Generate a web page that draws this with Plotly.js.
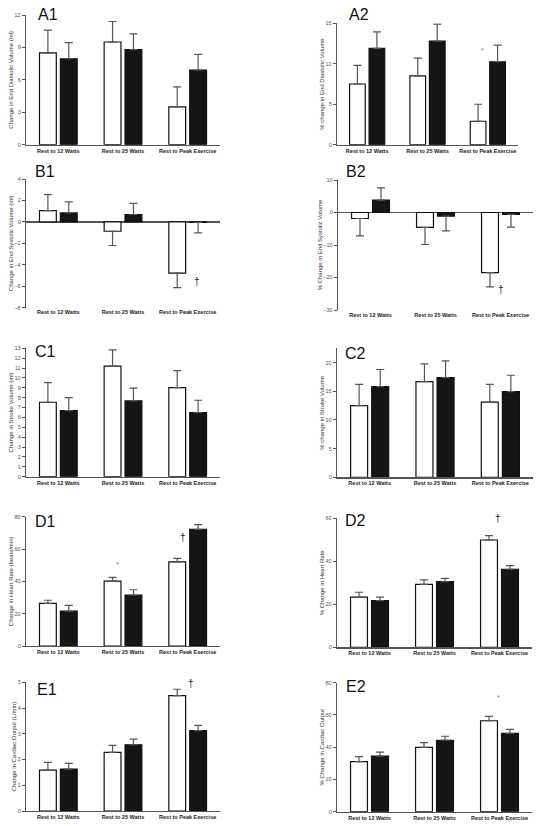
<!DOCTYPE html>
<html>
<head>
<meta charset="utf-8">
<script src="https://cdn.plot.ly/plotly-3.0.1.min.js"></script>
<style>html,body{margin:0;padding:0;background:#fff;}#chart{width:539px;height:826px;}</style>
</head>
<body>
<div id="chart"></div>
<script>
// ---------------- DATA ----------------
const categories = ['Rest to 12 Watts', 'Rest to 25 Watts', 'Rest to Peak Exercise'];

const a1White = [8.5, 9.5, 3.5],    a1WhiteErr = [2.1, 1.9, 1.85];
const a1Black = [7.95, 8.8, 6.9],   a1BlackErr = [1.5, 1.45, 1.45];
const a2White = [7.5, 8.5, 2.9],    a2WhiteErr = [2.3, 2.2, 2.1];
const a2Black = [11.9, 12.8, 10.25],a2BlackErr = [2.05, 2.1, 2.05];
const b1White = [1.05, -0.87, -4.77], b1WhiteErr = [1.5, 1.33, 1.36];
const b1Black = [0.84, 0.69, -0.05],  b1BlackErr = [1.03, 1.03, 0.98];
const b2White = [-1.85, -4.6, -18.5], b2WhiteErr = [5.35, 5.25, 4.4];
const b2Black = [3.8, -1.1, -0.6],    b2BlackErr = [3.8, 4.55, 3.9];
const c1White = [7.54, 11.2, 9.02], c1WhiteErr = [1.98, 1.64, 1.72];
const c1Black = [6.69, 7.67, 6.48], c1BlackErr = [1.31, 1.29, 1.26];
const c2White = [12.5, 16.7, 13.1], c2WhiteErr = [3.7, 3.1, 3.1];
const c2Black = [15.8, 17.4, 14.95],c2BlackErr = [3.0, 2.9, 2.85];
const d1White = [26.4, 40.2, 52.1], d1WhiteErr = [1.9, 2.3, 2.1];
const d1Black = [21.6, 31.5, 72.2], d1BlackErr = [3.5, 3.3, 2.9];
const d2White = [23.3, 29.3, 49.9], d2WhiteErr = [2.3, 2.1, 2.0];
const d2Black = [21.7, 30.5, 36.3], d2BlackErr = [1.6, 1.6, 1.7];
const e1White = [1.59, 2.28, 4.48], e1WhiteErr = [0.30, 0.27, 0.25];
const e1Black = [1.63, 2.57, 3.12], e1BlackErr = [0.22, 0.22, 0.21];
const e2White = [31, 39.9, 56.4],   e2WhiteErr = [3.1, 2.9, 2.7];
const e2Black = [34.5, 44.3, 48.6], e2BlackErr = [2.5, 2.5, 2.5];

const panelIds = ['A1','A2','B1','B2','C1','C2','D1','D2','E1','E2'];
const yTitles = [
  'Change in End Diastolic Volume (ml)', '% change in End Diastolic Volume',
  'Change in End Systolic Volume (ml)', '% Change in End Systolic Volume',
  'Change in Stroke Volume (ml)', '% change in Stroke Volume',
  'Change in Heart Rate (beats/min)', '% Change in Heart Rate',
  'Change in Cardiac Output (L/min)', '% Change in Cardiac Output'
];
const yRanges = [[0,12],[0,15],[-8,4],[-30,10],[0,13],[0,22.5],[0,80],[0,60],[0,5],[0,80]];
const yDticks = [3, 5, 2, 10, 1, 5, 20, 20, 1, 20];

// significance marks
const sigPanel = ['A2','B1','B2','D1','D1','D2','E1','E2'];
const sigX     = [1.91, 2.15, 2.0, 0.92, 1.93, 1.98, 2.05, 1.98];
const sigY     = [11.6, -5.6, -23.6, 50.7, 67, 59.7, 4.94, 71];
const sigText  = ['*', '†', '†', '*', '†', '†', '†', '*'];

const whiteSeries = [a1White,a2White,b1White,b2White,c1White,c2White,d1White,d2White,e1White,e2White];
const whiteErrs   = [a1WhiteErr,a2WhiteErr,b1WhiteErr,b2WhiteErr,c1WhiteErr,c2WhiteErr,d1WhiteErr,d2WhiteErr,e1WhiteErr,e2WhiteErr];
const blackSeries = [a1Black,a2Black,b1Black,b2Black,c1Black,c2Black,d1Black,d2Black,e1Black,e2Black];
const blackErrs   = [a1BlackErr,a2BlackErr,b1BlackErr,b2BlackErr,c1BlackErr,c2BlackErr,d1BlackErr,d2BlackErr,e1BlackErr,e2BlackErr];

// ---------------- LAYOUT (pixel boxes) ----------------
const W = 539, H = 826;
const boxes = {
  A1:{x:[26,220], y:[15,144.7]},   A2:{x:[337,518], y:[23.3,144.7]},
  B1:{x:[26,220], y:[179,307.7]},  B2:{x:[338,533], y:[180,310]},
  C1:{x:[26,220], y:[348.3,476.7]},C2:{x:[337,533], y:[348.3,477.3]},
  D1:{x:[26,220], y:[516.7,646]},  D2:{x:[337,532], y:[518.3,647.3]},
  E1:{x:[26,220], y:[682.3,811]},  E2:{x:[337,532], y:[682.7,811.7]}
};
const labelPos = {
  A1:[36,14.5], A2:[347,14.5], B1:[33,172], B2:[344,171.5], C1:[33,351.5],
  C2:[343,353], D1:[33,521], D2:[343,520.5], E1:[35,689.5], E2:[344,686.5]
};

const axisColor = '#555';
const fontFam = 'Liberation Sans, Arial, sans-serif';

const traces = [];
const layout = {
  width: W, height: H,
  margin: {l:0, r:0, t:0, b:0},
  paper_bgcolor: '#fff', plot_bgcolor: '#fff',
  font: {family: fontFam, color: '#333'},
  showlegend: false,
  barmode: 'group',
  bargap: 0.354,
  bargroupgap: 0.195,
  annotations: []
};

function errs(vals, e) {
  return {
    type: 'data', symmetric: false, visible: true,
    array: vals.map((v, i) => v >= 0 ? e[i] : 0),
    arrayminus: vals.map((v, i) => v < 0 ? e[i] : 0),
    color: axisColor, thickness: 1.2, width: 4
  };
}

panelIds.forEach((id, i) => {
  const n = i === 0 ? '' : String(i + 1);
  const xa = 'x' + n, ya = 'y' + n;
  const box = boxes[id];
  const isB = id[0] === 'B';

  traces.push({
    type: 'bar', x: categories, y: whiteSeries[i], xaxis: xa, yaxis: ya,
    name: 'Open', marker: {color: '#ffffff', line: {color: '#111', width: 1.2}},
    error_y: errs(whiteSeries[i], whiteErrs[i]), hoverinfo: 'y'
  });
  traces.push({
    type: 'bar', x: categories, y: blackSeries[i], xaxis: xa, yaxis: ya,
    name: 'Filled', marker: {color: '#151515', line: {color: '#111', width: 1.2}},
    error_y: errs(blackSeries[i], blackErrs[i]), hoverinfo: 'y'
  });

  layout['xaxis' + n] = {
    domain: [box.x[0] / W, box.x[1] / W], anchor: ya,
    type: 'category', range: [-0.5, 2.5],
    showline: !isB, linecolor: axisColor, linewidth: 1.2,
    ticks: '', showgrid: false, zeroline: false,
    tickfont: {size: 5.5, weight: 'bold', color: '#222', family: fontFam},
    fixedrange: true
  };
  layout['yaxis' + n] = {
    domain: [1 - box.y[1] / H, 1 - box.y[0] / H], anchor: xa,
    range: yRanges[i], tick0: 0, dtick: yDticks[i],
    showline: true, linecolor: axisColor, linewidth: 1.2,
    ticks: 'outside', ticklen: 3, tickwidth: 1, tickcolor: axisColor,
    tickfont: {size: 5.5, color: '#555', family: fontFam},
    showgrid: false,
    zeroline: isB, zerolinecolor: axisColor, zerolinewidth: 1.2,
    title: {text: yTitles[i], font: {size: 6, color: '#333', family: fontFam}, standoff: 0},
    fixedrange: true
  };

  const lp = labelPos[id];
  layout.annotations.push({
    xref: 'paper', yref: 'paper', x: lp[0] / W, y: 1 - lp[1] / H,
    xanchor: 'left', yanchor: 'middle', showarrow: false,
    text: id, font: {size: 16, color: '#111', family: fontFam}
  });
});

sigPanel.forEach((p, k) => {
  const i = panelIds.indexOf(p);
  const n = i === 0 ? '' : String(i + 1);
  const isStar = sigText[k] === '*';
  layout.annotations.push({
    xref: 'x' + n, yref: 'y' + n, x: sigX[k], y: sigY[k],
    xanchor: 'center', yanchor: 'middle', showarrow: false,
    text: sigText[k],
    font: {size: isStar ? 7 : 10, color: isStar ? '#777' : '#222', family: fontFam}
  });
});

Plotly.newPlot('chart', traces, layout, {staticPlot: true, displayModeBar: false});
</script>
</body>
</html>
